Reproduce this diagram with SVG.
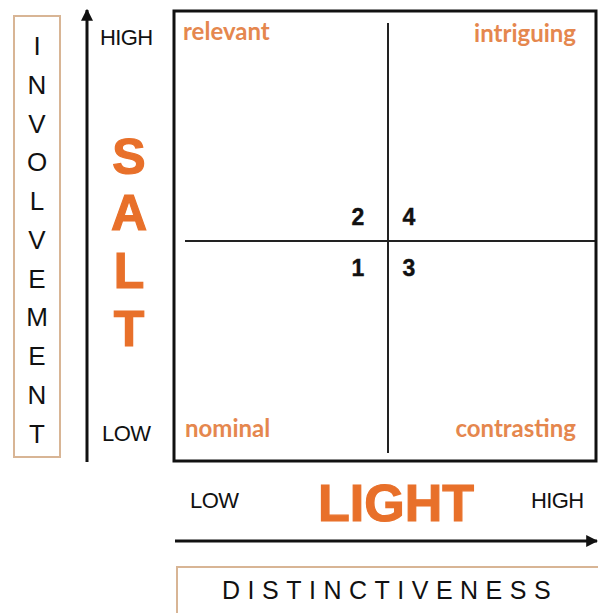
<svg xmlns="http://www.w3.org/2000/svg" width="598" height="613" viewBox="0 0 598 613">
<style>
.inv{font-family:"Liberation Sans",Arial,sans-serif;font-size:26px;fill:#111;text-anchor:middle}
.lvl{font-family:"Liberation Sans",Arial,sans-serif;font-size:22px;fill:#111;letter-spacing:-0.6px}
.big{font-family:"Liberation Sans",Arial,sans-serif;font-weight:bold;fill:#E8702A;stroke:#E8702A;stroke-width:1.2;text-anchor:middle}
.q{font-family:Lato,"Liberation Sans",sans-serif;font-weight:bold;font-size:24px;fill:#E5874E}
.num{font-family:"Liberation Sans",Arial,sans-serif;font-weight:bold;font-size:23px;fill:#111;text-anchor:middle;stroke:#111;stroke-width:0.4}
.tan{fill:#fff;stroke:#D8B595;stroke-width:2}
.ax{stroke:#111;stroke-width:3;fill:none}
.div{stroke:#222;stroke-width:2;fill:none}
</style>
<defs>
<marker id="ah" viewBox="0 0 10 10" refX="9" refY="5" markerWidth="4" markerHeight="4" orient="auto" markerUnits="strokeWidth">
<path d="M0,0 L10,5 L0,10 z" fill="#111"/>
</marker>
</defs>
<rect width="598" height="613" fill="#fff"/>
<g id="involvement">
<rect class="tan" x="14" y="16" width="46" height="441"/>
<text class="inv" x="37" y="55">I</text>
<text class="inv" x="37" y="94">N</text>
<text class="inv" x="37" y="133">V</text>
<text class="inv" x="37" y="171">O</text>
<text class="inv" x="37" y="210">L</text>
<text class="inv" x="37" y="249">V</text>
<text class="inv" x="37" y="288">E</text>
<text class="inv" x="37" y="326">M</text>
<text class="inv" x="37" y="365">E</text>
<text class="inv" x="37" y="404">N</text>
<text class="inv" x="37" y="443">T</text>
</g>
<g id="connectors">
<line class="ax" x1="87" y1="462" x2="87" y2="10" marker-end="url(#ah)"/>
<line class="ax" x1="175" y1="541" x2="597" y2="541" marker-end="url(#ah)"/>
<line class="div" x1="388" y1="23" x2="388" y2="453"/>
<line class="div" x1="185" y1="241" x2="596" y2="241"/>
</g>
<g id="salt-labels">
<text class="lvl" x="100" y="45">HIGH</text>
<text class="lvl" x="102" y="441">LOW</text>
<text class="big" x="129" y="174" font-size="50">S</text>
<text class="big" x="129" y="230" font-size="50">A</text>
<text class="big" x="129" y="288" font-size="50">L</text>
<text class="big" x="129" y="346" font-size="50">T</text>
</g>
<g id="matrix">
<rect x="174" y="11" width="422" height="450" fill="none" stroke="#111" stroke-width="3"/>
<text class="q" x="183" y="40">relevant</text>
<text class="q" x="576" y="42" text-anchor="end">intriguing</text>
<text class="q" x="185" y="437">nominal</text>
<text class="q" x="576" y="437" text-anchor="end">contrasting</text>
<text class="num" x="358" y="225">2</text>
<text class="num" x="409" y="225">4</text>
<text class="num" x="358" y="276">1</text>
<text class="num" x="409" y="276">3</text>
</g>
<g id="light-labels">
<text class="lvl" x="190" y="508">LOW</text>
<text class="lvl" x="531" y="508">HIGH</text>
<text class="big" x="396" y="521" font-size="52">LIGHT</text>
</g>
<g id="distinctiveness">
<rect class="tan" x="177" y="567" width="430" height="60"/>
<text x="222" y="599" font-family="'Liberation Sans',Arial,sans-serif" font-size="25" letter-spacing="7.5" fill="#111">DISTINCTIVENESS</text>
</g>
</svg>
